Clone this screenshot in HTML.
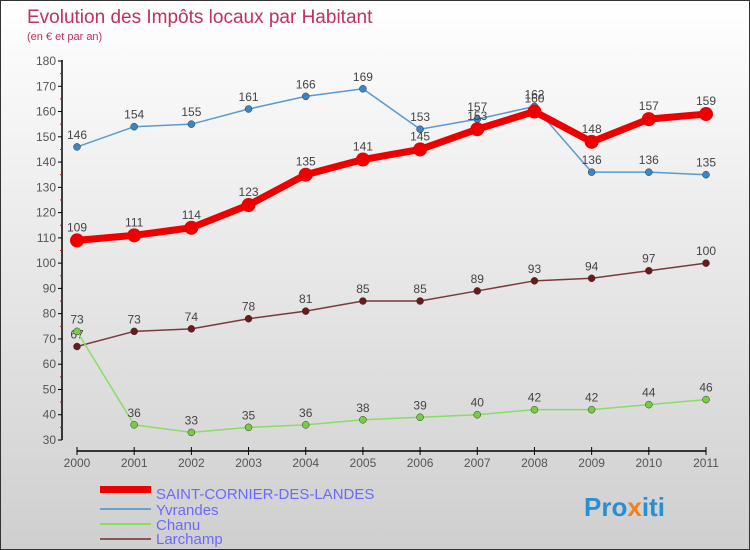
<!DOCTYPE html>
<html><head><meta charset="utf-8"><style>
body{margin:0;}
#wrap{position:relative;width:748px;height:548px;border:1px solid #333;background:linear-gradient(#ffffff,#cfcfcf);font-family:"Liberation Sans",sans-serif;overflow:hidden}
</style></head><body>
<div id="wrap">
<svg id="chart" width="748" height="548" style="position:absolute;left:0;top:0">
<text x="26" y="22" font-size="19" fill="#c03060">Evolution des Impôts locaux par Habitant</text>
<text x="26" y="39" font-size="11" fill="#c03060">(en € et par an)</text>
<g id="axes"></g><g id="series"></g>
<g>
<rect x="99" y="485" width="51" height="7" fill="#e00"/>
<text x="155" y="498" font-size="15" fill="#6a6aff">SAINT-CORNIER-DES-LANDES</text>
<rect x="99" y="507" width="51" height="2" fill="#6aa0cc"/>
<text x="155" y="514" font-size="15" fill="#6a6aff">Yvrandes</text>
<rect x="99" y="522" width="51" height="2" fill="#88dd66"/>
<text x="155" y="529" font-size="15" fill="#6a6aff">Chanu</text>
<rect x="99" y="537" width="51" height="2" fill="#8a5555"/>
<text x="155" y="543" font-size="15" fill="#6a6aff">Larchamp</text>
</g>
<text x="583" y="515" font-size="26" font-weight="bold"><tspan fill="#2a8fd0">Pro</tspan><tspan fill="#f08020">x</tspan><tspan fill="#2a8fd0">iti</tspan></text>
</svg>
</div>
<script>
const years=["2000","2001","2002","2003","2004","2005","2006","2007","2008","2009","2010","2011"];
const saint=[109,111,114,123,135,141,145,153,160,148,157,159];
const yvrandes=[146,154,155,161,166,169,153,157,162,136,136,135];
const chanu=[73,36,33,35,36,38,39,40,42,42,44,46];
const larchamp=[67,73,74,78,81,85,85,89,93,94,97,100];
const yTicks=[30,40,50,60,70,80,90,100,110,120,130,140,150,160,170,180];
const NS="http://www.w3.org/2000/svg";
const x=i=>76+i*(705-76)/11;
const y=v=>439-(v-30)*(379/150);
function mk(tag,attrs,parent){const e=document.createElementNS(NS,tag);for(const k in attrs)e.setAttribute(k,attrs[k]);parent.appendChild(e);return e;}
const ax=document.getElementById('axes');
let l=mk('line',{x1:61,y1:y(180)-1,x2:61,y2:y(30),stroke:'#000','stroke-width':1.5},ax);


l=mk('line',{x1:76,y1:450,x2:705,y2:450,stroke:'#000','stroke-width':1.5},ax);


yTicks.forEach(v=>{
 let t=mk('line',{x1:57,x2:61,y1:y(v),y2:y(v),stroke:'#000'},ax);
 
 
 if(v<180){let r=mk('line',{x1:59,x2:61,y1:y(v+5),y2:y(v+5),stroke:'#e00'},ax);
 
 }
 let tx=mk('text',{x:55,y:y(v)+4,'text-anchor':'end','font-size':12,fill:'#555'},ax);tx.textContent=v;
 
 
});
years.forEach((yr,i)=>{
 let t=mk('line',{x1:x(i),x2:x(i),y1:446,y2:454,stroke:'#000'},ax);
 
 
 let tx=mk('text',{x:x(i),y:466,'text-anchor':'middle','font-size':12,fill:'#555'},ax);tx.textContent=yr;
 
 
});
const sg=document.getElementById('series');
function series(vals,color,dot,w,r,name){
 const g=mk('g',{},sg);
 
 
 let p=mk('polyline',{points:vals.map((v,i)=>x(i)+','+y(v)).join(' '),fill:'none',stroke:color,'stroke-width':w},g);
 
 
 vals.forEach((v,i)=>{
  let c=mk('circle',{cx:x(i),cy:y(v),r:r,fill:dot,stroke:w>3?'none':'#333','stroke-width':0.5},g);
  
  
  let t=mk('text',{x:x(i),y:y(v)-(w>3?9:8),'text-anchor':'middle','font-size':12,fill:'#444'},g);t.textContent=v;
  
  
 });
}
series(larchamp,'#7a3a3a','#6a1a1a',1.5,3.5,'larchamp');
series(chanu,'#88dd66','#77cc44',1.5,3.5,'chanu');
series(yvrandes,'#5a9ad0','#3a86c8',1.5,3.5,'yvrandes');
series(saint,'#ee0000','#ee0000',7,7,'saint-cornier');
</script>
</body></html>
